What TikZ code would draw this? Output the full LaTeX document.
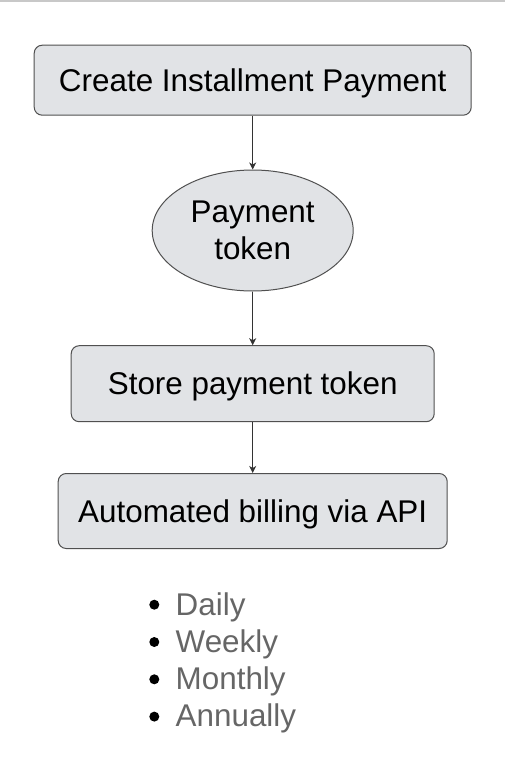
\documentclass[tikz,border=0pt]{standalone}
\usepackage{fontspec}
\setmainfont{Liberation Sans}
\usetikzlibrary{shapes.geometric,arrows.meta}
\definecolor{boxfill}{RGB}{225,227,230}
\definecolor{boxline}{RGB}{80,80,80}
\definecolor{arrowline}{RGB}{51,51,51}
\definecolor{listtext}{RGB}{102,102,102}
\definecolor{topline}{RGB}{200,200,200}
\tikzset{
  stepbox/.style={draw=boxline, line width=1pt, fill=boxfill, rounded corners=8pt,
    inner sep=0pt, text height=22.5pt, text depth=0pt,
    font=\fontsize{31.4}{37.5}\selectfont},
  tokenell/.style={ellipse, draw=boxline, line width=1pt, fill=boxfill, inner sep=0pt,
    minimum width=201pt, minimum height=121pt, align=center,
    font=\fontsize{31.4}{37.5}\selectfont},
  flow/.style={draw=arrowline, line width=1pt, -{Stealth[length=7pt,width=7pt,inset=2pt]}},
  bulletdot/.style={circle, fill=black, inner sep=0pt, minimum size=10pt},
  listitem/.style={anchor=base west, inner sep=0pt, text=listtext,
    font=\fontsize{31.4}{37.5}\selectfont}
}
\begin{document}
\begin{tikzpicture}[x=1pt,y=-1pt]
\useasboundingbox (0,0) rectangle (505,771);
\fill[topline] (0,0) rectangle (505,1.5);

\node[stepbox, minimum width=437pt, minimum height=70pt] (create) at (252.7,80.2) {Create Installment Payment};
\node[tokenell] (token) at (252.7,230.5) {Payment\\token};
\node[stepbox, minimum width=363pt, minimum height=76pt] (store) at (252.7,383.7) {Store payment token};
\node[stepbox, minimum width=389pt, minimum height=75pt] (billing) at (252.7,511) {Automated billing via API};

\draw[flow] (create) -- (token);
\draw[flow] (token) -- (store);
\draw[flow] (store) -- (billing);

\node[bulletdot] (b1) at (154.3,604.7) {};
\node[bulletdot] (b2) at (154.3,642.0) {};
\node[bulletdot] (b3) at (154.3,679.3) {};
\node[bulletdot] (b4) at (154.3,716.6) {};
\node[listitem] (daily) at (175.5,615) {Daily};
\node[listitem] (weekly) at (175.5,652.3) {Weekly};
\node[listitem] (monthly) at (175.5,689.6) {Monthly};
\node[listitem] (annually) at (175.5,726.9) {Annually};
\end{tikzpicture}
\end{document}
